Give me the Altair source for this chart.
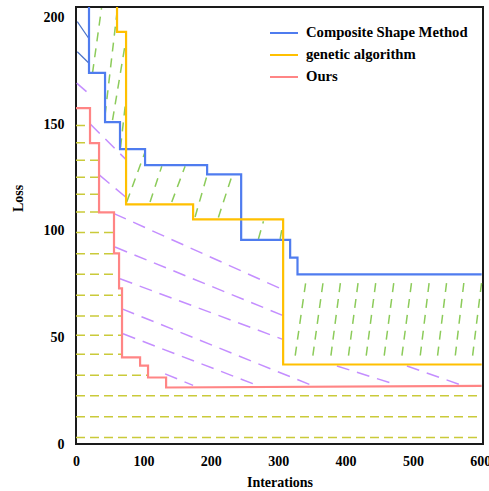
import altair as alt
import pandas as pd

SERIES = ["Composite Shape Method", "genetic algorithm", "Ours"]
COLORS = ["#4F7CEF", "#FFC000", "#FF8585"]

# ---- step curves (data units) ----
csm_start = [19.3, 205.0]
csm_step_x = [19.3, 43.1, 65.3, 102.5, 194.6, 245.1, 317.8, 328.7]
csm_step_y = [174.1, 151.0, 138.3, 130.8, 126.5, 95.8, 87.4, 79.6]
csm_end = [602.0, 79.6]

ga_start = [60.9, 205.0]
ga_step_x = [60.9, 74.3, 173.8, 307.4]
ga_step_y = [193.3, 112.4, 105.4, 37.3]
ga_end = [602.0, 37.3]

ours_start = [0.0, 157.6]
ours_step_x = [20.8, 34.2, 56.4, 63.9, 68.3, 95.1, 106.9, 133.7]
ours_step_y = [141.1, 108.7, 89.4, 73.0, 40.6, 36.8, 31.2, 26.5]
ours_end = [602.0, 27.3]

# ---- hatch lines ----
# horizontal olive dashes below "Ours"
olive_y = [149.4, 141.3, 133.1, 125.1, 117.2, 108.8, 99.2, 89.3, 79.6, 69.8,
           60.0, 51.0, 42.1, 32.2, 22.6, 12.8, 3.1]
# purple diagonal dashes (x1, y1, x2, y2)
purple_x1 = [1.0, 21.5, 34.9, 56.4, 57.9, 65.3, 68.3, 69.8, 132.2, 387.2, 491.1]
purple_y1 = [169.3, 150.0, 126.1, 108.1, 92.4, 77.5, 63.4, 51.7, 32.9, 36.6, 36.6]
purple_x2 = [16.3, 74.3, 74.3, 307.0, 307.0, 305.9, 347.5, 268.4, 173.8, 476.3, 570.3]
purple_y2 = [165.1, 133.4, 115.7, 72.4, 60.3, 49.2, 27.8, 27.6, 27.5, 27.7, 27.8]
# green slanted dashes between the two baselines
green_x1 = [24.5, 43.1, 54.2, 66.1, 75.3, 109.9, 142.1, 176.7, 211.3, 270.7, 303.0,
            325.3, 351.5, 378.3, 404.4, 430.7, 457.4, 483.7, 510.9, 536.6, 562.9, 588.6]
green_y1 = [174.0, 154.3, 151.9, 139.2, 113.5, 113.5, 113.5, 106.5, 106.3, 96.2, 96.2,
            41.5, 41.5, 41.5, 41.5, 41.5, 41.5, 41.5, 41.5, 41.5, 41.5, 41.5]
green_x2 = [37.9, 60.9, 74.3, 74.3, 102.5, 127.3, 161.9, 194.6, 231.2, 278.2, 307.4,
            341.6, 367.3, 393.1, 419.3, 445.5, 472.3, 498.6, 524.7, 550.6, 576.2, 602.5]
green_y2 = [204.5, 202.7, 190.0, 162.3, 137.0, 130.3, 130.3, 126.1, 125.6, 104.5, 104.2,
            77.3, 77.3, 77.3, 77.3, 77.3, 77.3, 77.3, 77.3, 77.3, 77.3, 77.3]
# two thin blue strokes at the top left
blue_x1 = [1.9, 1.9]
blue_y1 = [198.1, 184.0]
blue_x2 = [19.3, 19.3]
blue_y2 = [190.1, 178.6]


def path(name, start, sx, sy, end):
    rows = [tuple(start)]
    cy = start[1]
    for x, y in zip(sx, sy):
        rows.append((x, cy))
        rows.append((x, y))
        cy = y
    rows.append(tuple(end))
    return pd.DataFrame({"x": [r[0] for r in rows], "y": [r[1] for r in rows],
                         "i": list(range(len(rows))), "series": name})


lines_df = pd.concat([
    path(SERIES[0], csm_start, csm_step_x, csm_step_y, csm_end),
    path(SERIES[1], ga_start, ga_step_x, ga_step_y, ga_end),
    path(SERIES[2], ours_start, ours_step_x, ours_step_y, ours_end),
])

# end of each horizontal hatch where "Ours" falls below it
olive_x2 = []
for yv in olive_y:
    xe = ours_end[0]
    for sx, sy in zip(ours_step_x, ours_step_y):
        if sy <= yv + 0.5:
            xe = sx
            break
    olive_x2.append(xe)
olive_df = pd.DataFrame({"x": [0.0] * len(olive_y), "y": olive_y, "x2": olive_x2, "y2": olive_y})
purple_df = pd.DataFrame({"x": purple_x1, "y": purple_y1, "x2": purple_x2, "y2": purple_y2})
green_df = pd.DataFrame({"x": green_x1, "y": green_y1, "x2": green_x2, "y2": green_y2})
blue_df = pd.DataFrame({"x": blue_x1, "y": blue_y1, "x2": blue_x2, "y2": blue_y2})

FONT = "Liberation Serif"
xscale = alt.Scale(domain=[0, 604], nice=False, zero=False)
yscale = alt.Scale(domain=[0, 205], nice=False, zero=False)
xaxis = alt.Axis(values=[0, 100, 200, 300, 400, 500, 600], title="Interations", grid=False,
                 ticks=False, domain=False, labelFont=FONT, labelFontWeight="bold",
                 labelFontSize=14, labelColor="black", labelPadding=10, titleFont=FONT,
                 titleFontWeight="bold", titleFontSize=14, titleColor="black",
                 titleY=38, titleBaseline="middle", labelFlush=False)
yaxis = alt.Axis(values=[0, 50, 100, 150, 200], title="Loss", grid=False, ticks=False,
                 domain=False, labelFont=FONT, labelFontWeight="bold", labelFontSize=14,
                 labelColor="black", labelPadding=12, titleFont=FONT, titleFontWeight="bold",
                 titleFontSize=14, titleColor="black", titleX=-58, titleY=191,
                 titleBaseline="middle", titleAlign="center", titleAngle=270)
X = alt.X("x:Q", scale=xscale, axis=xaxis)
Y = alt.Y("y:Q", scale=yscale, axis=yaxis)


def hatch(df, color, dash, width=1.5):
    m = alt.Chart(df).mark_rule(color=color, strokeWidth=width, clip=True,
                                **({"strokeDash": dash} if dash else {}))
    return m.encode(x=X, y=Y, x2="x2:Q", y2="y2:Q")


olive = hatch(olive_df, "#CACA3A", [9, 5])
purple = hatch(purple_df, "#C48EFF", [13, 8])
green = hatch(green_df, "#8CCB5A", [9, 7])
bluel = hatch(blue_df, "#4A72C8", None, 1.2)

lines = alt.Chart(lines_df).mark_line(strokeWidth=2.2, clip=True).encode(
    x=X, y=Y, order="i:Q",
    color=alt.Color("series:N", scale=alt.Scale(domain=SERIES, range=COLORS),
                    legend=alt.Legend(title=None, orient="none", legendX=193, legendY=11,
                                      symbolType="stroke", symbolSize=784,
                                      symbolStrokeWidth=2, labelFont=FONT,
                                      labelFontSize=14.7, labelFontWeight="bold",
                                      labelColor="black", rowPadding=-7.5, labelOffset=7,
                                      labelLimit=300, padding=0)),
)

chart = alt.layer(olive, purple, green, bluel, lines).properties(
    width=407, height=437,
    autosize=alt.AutoSizeParams(type="none"),
    padding={"left": 76, "top": 7, "right": 6, "bottom": 47},
).configure_view(stroke="#1a1a1a", strokeWidth=2)

chart.save("out.html", embed_options={"renderer": "svg", "actions": False})
